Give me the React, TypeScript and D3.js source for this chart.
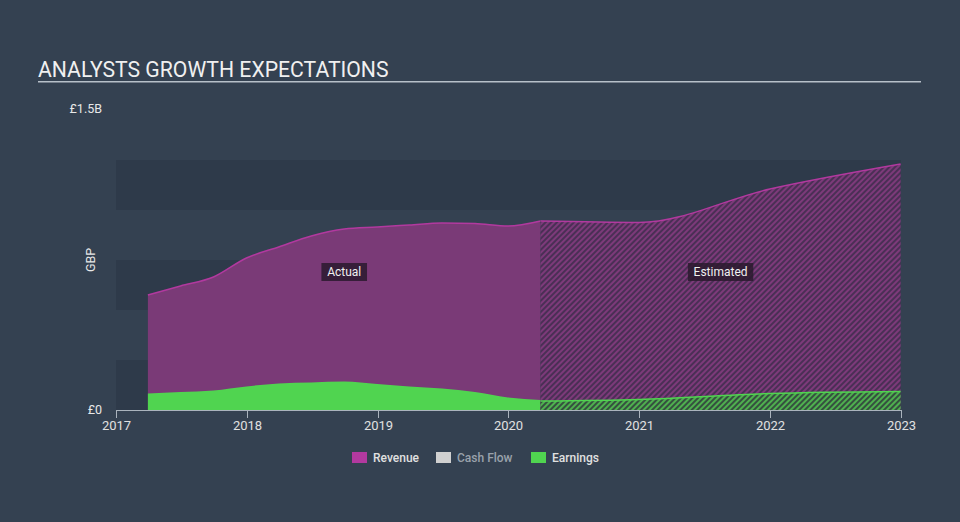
import React from "react";
import * as d3 from "d3";

const actualDates = ["2017-03-31","2017-06-30","2017-09-30","2017-12-31","2018-03-31","2018-06-30","2018-09-30","2018-12-31","2019-03-31","2019-06-30","2019-09-30","2019-12-31","2020-03-31"];
const actualRevenue = [575, 620, 665, 760, 815, 870, 905, 915, 925, 935, 932, 920, 945];
const actualEarnings = [83, 90, 98, 118, 133, 138, 143, 130, 118, 108, 90, 62, 50];
const estDates = ["2020-03-31","2020-12-31","2021-12-31","2022-12-31"];
const estRevenue = [945, 938, 1105, 1230];
const estEarnings = [45, 53, 82, 92];
const yearTicks = [2017, 2018, 2019, 2020, 2021, 2022, 2023];
const legendItems = ["Revenue", "Cash Flow", "Earnings"];

const W = 960, H = 522;
const BG = "#344151";
const BAND = "#2e3a4a";
const REV = "#b2399f";
const REV_FILL = "#7a3a77";
const EARN = "#50d450";
const CASH = "#d0d0d0";

export default function App() {
  const parse = d3.timeParse("%Y-%m-%d");
  const x = d3.scaleTime().domain([new Date(2017, 0, 1), new Date(2023, 0, 1)]).range([116, 901]);
  const y = d3.scaleLinear().domain([0, 1500]).range([410, 110]);

  const act = actualDates.map((d, i) => ({ d: parse(d)!, r: actualRevenue[i], e: actualEarnings[i] }));
  const est = estDates.map((d, i) => ({ d: parse(d)!, r: estRevenue[i], e: estEarnings[i] }));

  const areaR = d3.area<any>().x(p => x(p.d)).y0(y(0)).y1(p => y(p.r)).curve(d3.curveMonotoneX);
  const areaE = d3.area<any>().x(p => x(p.d)).y0(y(0)).y1(p => y(p.e)).curve(d3.curveMonotoneX);
  const lineR = d3.line<any>().x(p => x(p.d)).y(p => y(p.r)).curve(d3.curveMonotoneX);
  const lineE = d3.line<any>().x(p => x(p.d)).y(p => y(p.e)).curve(d3.curveMonotoneX);

  const bands = [[0, 250], [500, 750], [1000, 1250]];
  const xa0 = x(act[0].d), xa1 = x(act[act.length - 1].d), xe1 = x(est[est.length - 1].d);

  const legendX = [352, 436, 531];
  const legendColors = [REV, CASH, EARN];
  const legendText = ["#e0e0e0", "#9aa2ab", "#e0e0e0"];

  return (
    <svg width={W} height={H} style={{ position: "absolute", left: 0, top: 0, display: "block" }} fontFamily="Roboto, sans-serif">
      <defs>
        <pattern id="hatchR" patternUnits="userSpaceOnUse" width="4" height="4" patternTransform="rotate(45)">
          <rect width="4" height="4" fill="#4a2f55" />
          <rect width="2" height="4" fill="#7d3a7a" />
        </pattern>
        <pattern id="hatchE" patternUnits="userSpaceOnUse" width="4" height="4" patternTransform="rotate(45)">
          <rect width="4" height="4" fill="#35503f" />
          <rect width="2" height="4" fill="#4fb04f" />
        </pattern>
      </defs>
      <rect width={W} height={H} fill={BG} />
      <text x={38} y={77} fill="#f0f0f0" fontSize={21.2}>ANALYSTS GROWTH EXPECTATIONS</text>
      <rect x={38} y={81} width={883} height={1.5} fill="#b7c0c9" />

      {bands.map(([a, b], i) => (
        <rect key={i} x={116} y={y(b)} width={901 - 116} height={y(a) - y(b)} fill={BAND} />
      ))}

      <text x={102} y={113} fill="#e8e8e8" fontSize={12.5} textAnchor="end">£1.5B</text>
      <text x={102} y={414} fill="#e8e8e8" fontSize={12.5} textAnchor="end">£0</text>
      <text transform="translate(95,260) rotate(-90)" fill="#e8e8e8" fontSize={12.5} textAnchor="middle">GBP</text>

      <path d={areaR(act)!} fill={REV_FILL} />
      <path d={areaE(act)!} fill={EARN} />
      <path d={lineR(act)!} fill="none" stroke={REV} strokeWidth={1.5} />

      <path d={areaR(est)!} fill="url(#hatchR)" />
      <path d={areaE(est)!} fill="url(#hatchE)" />
      <path d={lineR(est)!} fill="none" stroke={REV} strokeWidth={1.5} />
      <path d={lineE(est)!} fill="none" stroke={EARN} strokeWidth={1.5} />

      <line x1={116} x2={901} y1={410.5} y2={410.5} stroke="#aab3bd" />
      {yearTicks.map(t => {
        const tx = Math.round(x(new Date(t, 0, 1))) + 0.5;
        return (
          <g key={t}>
            <line x1={tx} x2={tx} y1={410} y2={418} stroke="#aab3bd" />
            <text x={tx} y={430} fill="#e0e0e0" fontSize={13} textAnchor="middle">{t}</text>
          </g>
        );
      })}

      {[["Actual", (xa0 + xa1) / 2], ["Estimated", (xa1 + xe1) / 2]].map(([label, cx]: any) => {
        const w = label.length * 6.6 + 6;
        return (
          <g key={label}>
            <rect x={cx - w / 2} y={263} width={w} height={18} fill="#2a1a2e" fillOpacity={0.85} />
            <text x={cx} y={276} fill="#f0f0f0" fontSize={12} textAnchor="middle">{label}</text>
          </g>
        );
      })}

      {legendItems.map((l, i) => (
        <g key={l}>
          <rect x={legendX[i]} y={452} width={15} height={11} fill={legendColors[i]} />
          <text x={legendX[i] + 21} y={462} fill={legendText[i]} fontSize={12} fontWeight={500}>{l}</text>
        </g>
      ))}
    </svg>
  );
}
